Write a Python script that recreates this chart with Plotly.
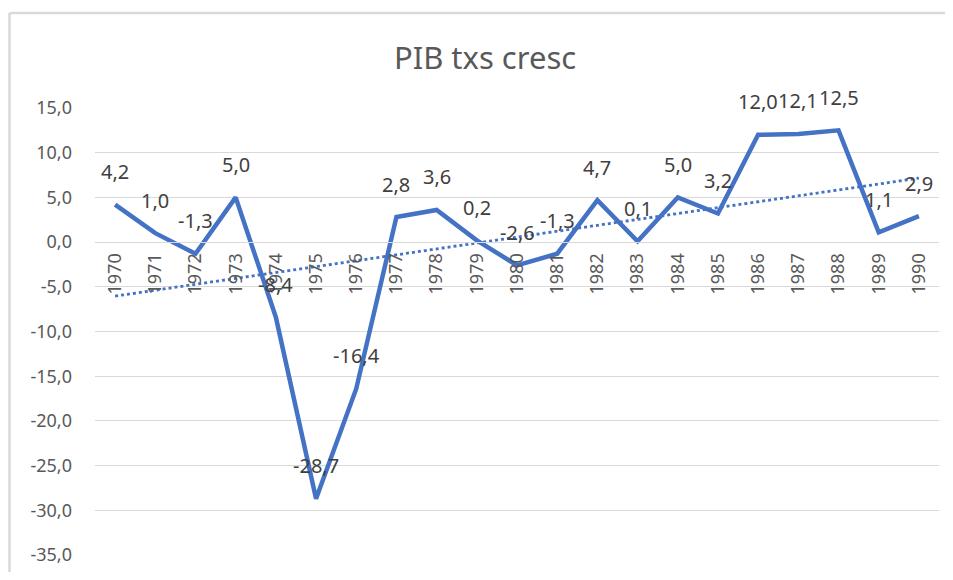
import plotly.graph_objects as go
import numpy as np

years = [str(y) for y in range(1970, 1991)]
growth = [4.2, 1.0, -1.3, 5.0, -8.4, -28.7, -16.4, 2.8, 3.6, 0.2, -2.6, -1.3,
          4.7, 0.1, 5.0, 3.2, 12.0, 12.1, 12.5, 1.1, 2.9]
y_ticks = [15, 10, 5, 0, -5, -10, -15, -20, -25, -30, -35]
y_tick_labels = [f"{v:.1f}".replace(".", ",") for v in y_ticks]
title_text = "PIB txs cresc"

OFF = 8  # page body margin
W, H = 953 - 2 * OFF, 580 - 2 * OFF
ML, MT = 95 - OFF, 108 - OFF
MR, MB = W - (939 - OFF), H - (557 - OFF)
pw, ph = W - ML - MR, H - MT - MB
ymin, ymax = -35, 15
FONT = "Noto Sans, Liberation Sans, sans-serif"

# linear trendline (Excel-like)
idx = np.arange(len(growth))
slope, intercept = np.polyfit(idx, growth, 1)
trend = slope * idx + intercept

fig = go.Figure()
fig.add_trace(go.Scatter(x=years, y=trend, mode="lines",
                         line=dict(color="#4472C4", width=2.8, dash="dot"),
                         hoverinfo="skip", showlegend=False))
fig.add_trace(go.Scatter(x=years, y=growth, mode="lines",
                         line=dict(color="#4472C4", width=4.5),
                         showlegend=False))

annotations = []
for i, v in enumerate(growth):
    annotations.append(dict(x=i, y=v, xref="x", yref="y",
                            text=f"{v:.1f}".replace(".", ","),
                            showarrow=False, yshift=33,
                            font=dict(family=FONT, size=20, color="#404040")))

zero_pos = (0 - ymin) / (ymax - ymin)

bx0 = (8 - OFF - ML) / pw + 1.5 / pw
by1 = 1 + (MT - (11 - OFF)) / ph - 1.5 / ph
fig.update_layout(
    width=W, height=H,
    margin=dict(l=ML, r=MR, t=MT, b=MB),
    paper_bgcolor="white", plot_bgcolor="white",
    title=dict(text=title_text, x=(485 - OFF) / W, xref="container", xanchor="center",
               y=1 - (58 - OFF) / H, yref="container", yanchor="middle",
               font=dict(family=FONT, size=31, color="#595959")),
    xaxis=dict(type="category", anchor="free", position=zero_pos,
               tickangle=-90, showgrid=False, showline=True, linecolor="#d9d9d9",
               linewidth=1, ticks="", ticklabelstandoff=3,
               tickfont=dict(family=FONT, size=18, color="#595959"),
               range=[-0.5, len(years) - 0.5]),
    yaxis=dict(range=[ymin, ymax], tickvals=y_ticks, ticktext=y_tick_labels,
               showgrid=True, gridcolor="#d9d9d9", gridwidth=1,
               zeroline=False, showline=False, ticks="", ticklabelstandoff=22,
               tickfont=dict(family=FONT, size=18, color="#595959")),
    annotations=annotations,
    shapes=[
        dict(type="line", xref="paper", yref="paper",
             x0=bx0, x1=bx0, y0=-(MB + 10) / ph, y1=by1,
             line=dict(color="#d9d9d9", width=2.5), layer="below"),
        dict(type="line", xref="paper", yref="paper",
             x0=bx0, x1=(W + 10 - ML) / pw, y0=by1, y1=by1,
             line=dict(color="#d9d9d9", width=2.5), layer="below"),
    ],
)

fig.write_html("out.html")
